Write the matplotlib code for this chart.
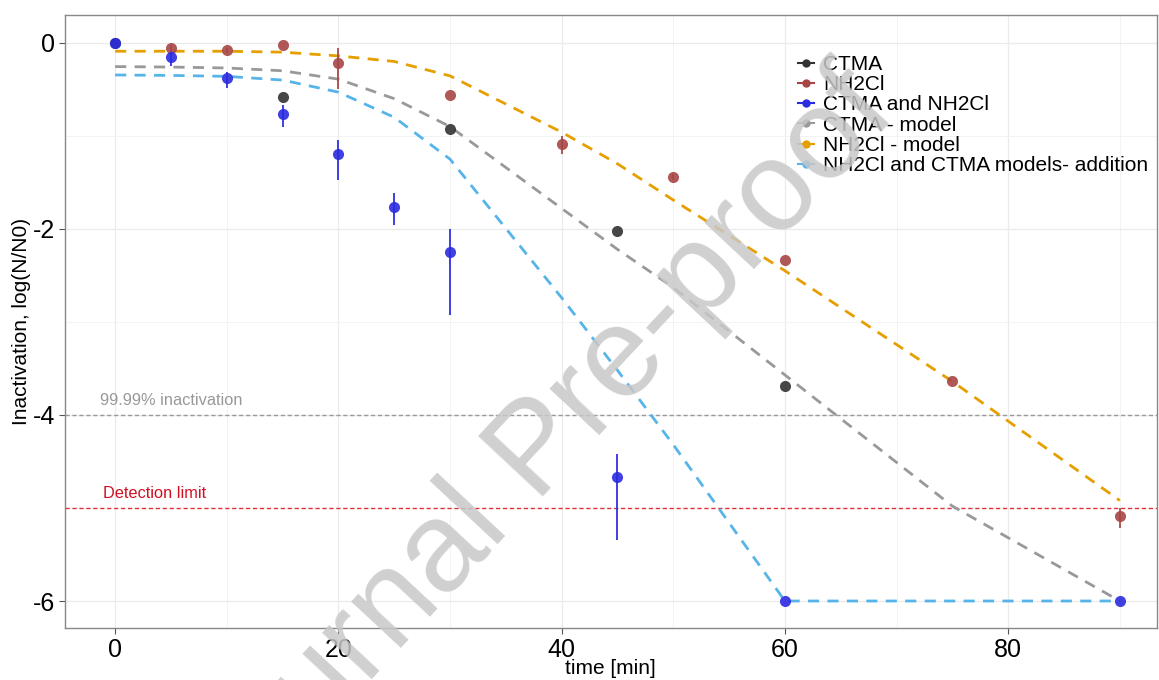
import numpy as np
import matplotlib
matplotlib.use("Agg")
import matplotlib.pyplot as plt
from matplotlib.lines import Line2D

plt.rcParams['font.family'] = ['Liberation Sans', 'DejaVu Sans']
plt.rcParams['axes.unicode_minus'] = False

# measured points (time [min], log(N/N0), error below / above)
ctma_t = [0, 15, 30, 45, 60]
ctma_y = [0.0, -0.58, -0.93, -2.02, -3.69]

nh2cl_t = [5, 10, 15, 20, 30, 40, 50, 60, 75, 90]
nh2cl_y = [-0.06, -0.08, -0.02, -0.22, -0.56, -1.09, -1.44, -2.33, -3.64, -5.09]
nh2cl_lo = [0.04, 0.03, 0.0, 0.28, 0.0, 0.1, 0.03, 0.0, 0.0, 0.13]
nh2cl_hi = [0.04, 0.03, 0.0, 0.17, 0.0, 0.09, 0.03, 0.0, 0.0, 0.09]

both_t = [0, 5, 10, 15, 20, 25, 30, 45, 60, 90]
both_y = [0.0, -0.15, -0.38, -0.77, -1.2, -1.76, -2.25, -4.67, -6.0, -6.0]
both_lo = [0.0, 0.1, 0.1, 0.13, 0.27, 0.2, 0.68, 0.67, 0.0, 0.0]
both_hi = [0.0, 0.07, 0.07, 0.1, 0.16, 0.15, 0.25, 0.25, 0.0, 0.0]

# model curves
model_t = [0, 5, 10, 15, 20, 25, 30, 40, 45, 50, 60, 75, 90]
ctma_model = [-0.255, -0.26, -0.27, -0.30, -0.39, -0.6, -0.9, -1.78, -2.22, -2.63, -3.57, -4.98, -6.0]
nh2cl_model = [-0.09, -0.09, -0.09, -0.1, -0.14, -0.2, -0.355, -0.96, -1.3, -1.69, -2.45, -3.64, -4.92]
add_model = [-0.345, -0.35, -0.36, -0.4, -0.53, -0.8, -1.25, -2.74, -3.52, -4.32, -6.0, -6.0, -6.0]

labels = ["CTMA", "NH2Cl", "CTMA and NH2Cl", "CTMA - model", "NH2Cl - model",
          "NH2Cl and CTMA models- addition"]
colors = ["#333333", "#A84646", "#2B2BE0", "#999999", "#E69F00", "#56B4E9"]

fig = plt.figure(figsize=(11.59, 6.8), dpi=100)
ax = fig.add_axes([0.056, 0.0765, 0.942, 0.9015])

ax.set_xlim(-4.5, 93.3)
ax.set_ylim(-6.29, 0.3)

# grid
ax.set_xticks([0, 20, 40, 60, 80])
ax.set_xticks([10, 30, 50, 70, 90], minor=True)
ax.set_yticks([0, -2, -4, -6])
ax.set_yticks([-1, -3, -5], minor=True)
ax.grid(which="major", color="#ebebeb", lw=0.9)
ax.grid(which="minor", color="#f3f3f3", lw=0.7)
ax.set_axisbelow(True)
ax.tick_params(which="minor", length=0)
ax.tick_params(which="major", length=4, color="#555555", labelsize=18, pad=3)
for s in ax.spines.values():
    s.set_color("#888888")
    s.set_linewidth(1.0)

# reference lines
ax.axhline(-4, color="#999999", ls=(0, (3, 2)), lw=1.0)
ax.axhline(-5, color="#E0303A", ls=(0, (3, 2)), lw=1.0)
ax.text(-1.35, -3.93, "99.99% inactivation", color="#999999", fontsize=11.8, va="bottom")
ax.text(-1.1, -4.93, "Detection limit", color="#D01020", fontsize=11.8, va="bottom")

# models
dash = (0, (4, 3))
ax.plot(model_t, ctma_model, color=colors[3], ls=dash, lw=2)
ax.plot(model_t, nh2cl_model, color=colors[4], ls=dash, lw=2)
ax.plot(model_t, add_model, color=colors[5], ls=dash, lw=2)

# points with error bars
ax.errorbar(ctma_t, ctma_y, fmt="o", color=colors[0], ms=8, alpha=0.9, mec="none")
ax.errorbar(nh2cl_t, nh2cl_y, yerr=[nh2cl_lo, nh2cl_hi], fmt="o", color=colors[1],
            ecolor=colors[1], elinewidth=1.4, ms=8, alpha=0.9, mec="none")
ax.errorbar(both_t, both_y, yerr=[both_lo, both_hi], fmt="o", color=colors[2],
            ecolor=colors[2], elinewidth=1.4, ms=8, alpha=0.9, mec="none")

ax.set_xlabel("time [min]", fontsize=15, labelpad=-2)
ax.set_ylabel("Inactivation, log(N/N0)", fontsize=15)
ax.yaxis.set_label_coords(-0.031, 0.5)

handles = [Line2D([0], [0], color=c, marker="o", ms=5, lw=1.5) for c in colors]
ax.legend(handles, labels, loc="upper left", bbox_to_anchor=(0.662, 0.952),
          frameon=False, fontsize=15, labelspacing=0.06, handlelength=0.77,
          handletextpad=0.43, borderpad=0)

# watermark
fig.text(0.465, 0.335, "Journal Pre-proof", fontsize=92, color="#c8c8c8", alpha=0.85,
         rotation=47, ha="center", va="center", zorder=10)

fig.savefig("out.png", dpi=100)
